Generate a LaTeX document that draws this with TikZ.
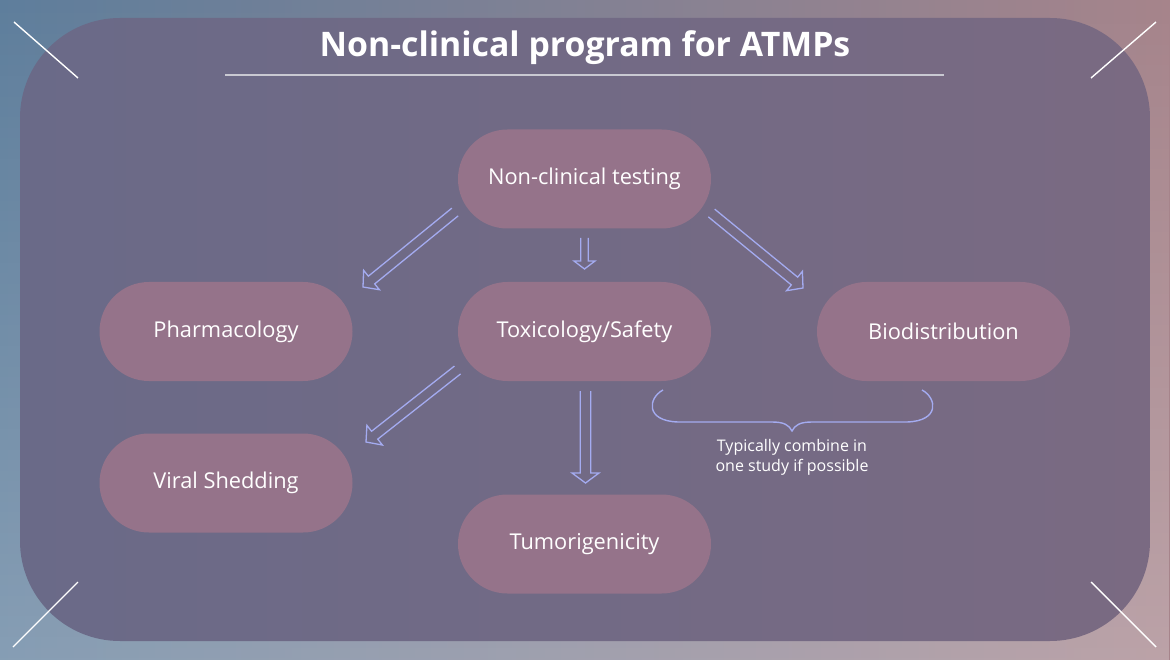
\documentclass[tikz,border=0pt]{standalone}
\usepackage{fontspec}
\setmainfont{Open Sans}
\usetikzlibrary{calc,fadings}
\definecolor{bgL}{HTML}{5E7E9C}
\definecolor{bgR}{HTML}{A6848B}
\definecolor{panL}{HTML}{6A6A88}
\definecolor{panR}{HTML}{7A6A82}
\definecolor{pill}{HTML}{95738A}
\definecolor{arrc}{HTML}{A4ABF0}
\definecolor{rule}{HTML}{C9C9D2}
\newcommand\harrow[5]{%
  \path ($(#2)!#5pt!(#1)$) coordinate (hb);
  \draw[arr] ($(#1)!#3pt!90:(#2)$) -- ($(hb)!#3pt!-90:(#1)$) -- ($(hb)!#4pt!-90:(#1)$) -- (#2)
    -- ($(hb)!#4pt!90:(#1)$) -- ($(hb)!#3pt!90:(#1)$) -- ($(#1)!#3pt!-90:(#2)$);
}
\begin{document}
\begin{tikzpicture}[x=1pt,y=-1pt,
  pillbox/.style={draw=none, fill=pill, rounded corners=49.5pt, minimum width=253pt, minimum height=99pt,
    text=white, font=\fontsize{21.8}{26}\selectfont, inner sep=0pt},
  arr/.style={draw=arrc, line width=1.3pt, line join=miter},
  corner/.style={draw=white, line width=1.4pt}]
\useasboundingbox (0,0) rectangle (1170,660);
% background
\shade[left color=bgL, right color=bgR] (0,0) rectangle (1170,660);
\fill[white, opacity=0.25, path fading=north] (0,0) rectangle (1170,660);
% panel
\shade[left color=panL, right color=panR, rounded corners=100pt] (20,18) rectangle (1150,641);
% corner marks
\coordinate (c1a) at (14,22); \coordinate (c1b) at (78,78);
\coordinate (c2a) at (1156,22); \coordinate (c2b) at (1091,78);
\coordinate (c3a) at (78,582); \coordinate (c3b) at (13,647);
\coordinate (c4a) at (1091,582); \coordinate (c4b) at (1156,647);
\draw[corner] (c1a) -- (c1b);
\draw[corner] (c2a) -- (c2b);
\draw[corner] (c3a) -- (c3b);
\draw[corner] (c4a) -- (c4b);
% title
\node[text=white, font=\bfseries\fontsize{33.8}{38}\selectfont] (title) at (585,48) {Non-clinical program for ATMPs};
\coordinate (ruleL) at (225,75); \coordinate (ruleR) at (944,75);
\draw[rule, line width=2pt] (ruleL) -- (ruleR);
% nodes
\node[pillbox] (nct) at (584.5,179) {Non-clinical testing};
\node[pillbox] (pharm) at (226,331.5) {Pharmacology};
\node[pillbox] (tox) at (584.5,331.5) {Toxicology/Safety};
\node[pillbox] (bio) at (943.5,331.5) {Biodistribution};
\node[pillbox] (viral) at (226,483) {Viral Shedding};
\node[pillbox] (tumor) at (584.5,544) {Tumorigenicity};
% arrows
\coordinate (a1s) at (455,212); \coordinate (a1e) at (363,287);
\coordinate (a2s) at (584.5,238); \coordinate (a2e) at (584.5,269);
\coordinate (a3s) at (711.5,213); \coordinate (a3e) at (803,288);
\coordinate (a4s) at (457.5,370); \coordinate (a4e) at (366,442);
\coordinate (a5s) at (585.5,391); \coordinate (a5e) at (585.5,483);
\harrow{a1s}{a1e}{5}{12.5}{11}
\harrow{a2s}{a2e}{3.8}{10.5}{8}
\harrow{a3s}{a3e}{5}{12.5}{11}
\harrow{a4s}{a4e}{5}{12.5}{11}
\harrow{a5s}{a5e}{5.3}{13.5}{10}
% brace
\coordinate (brL) at (663,390); \coordinate (brR) at (922,390); \coordinate (brT) at (792,431);
\draw[draw=arrc, line width=1.4pt] (brL) .. controls (648,398) and (645,421) .. (678,422)
  -- (772,422) .. controls (784,422) and (789,425) .. (brT)
  .. controls (795,425) and (800,422) .. (812,422) -- (907,422)
  .. controls (940,421) and (937,398) .. (brR);
\node[text=white, align=center, font=\fontsize{16}{20}\selectfont] (note) at (792,457) {Typically combine in\\one study if possible};
\end{tikzpicture}
\end{document}
